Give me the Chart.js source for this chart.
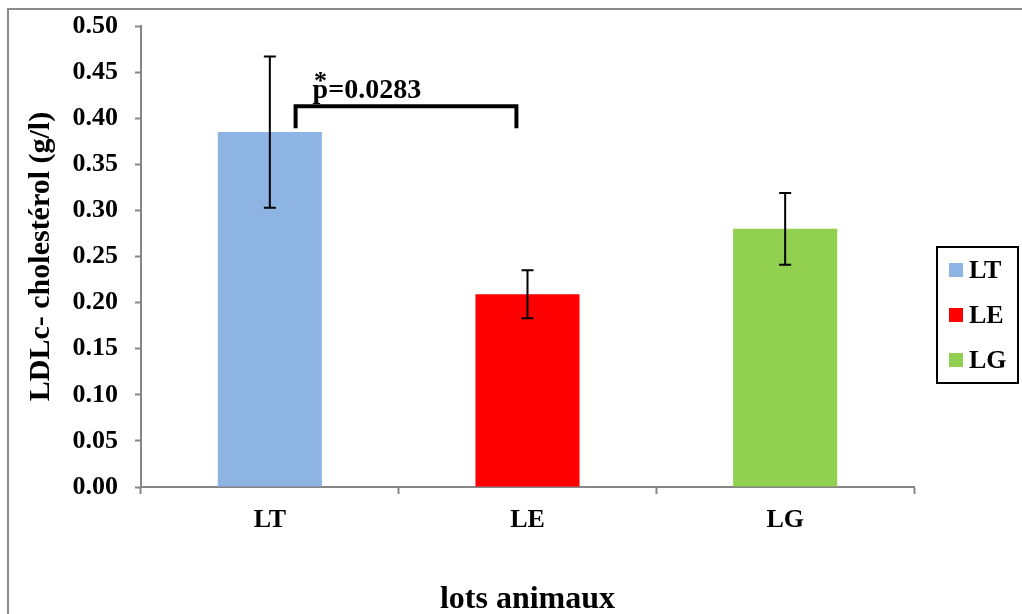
<!DOCTYPE html>
<html>
<head>
<meta charset="utf-8">
<script src="https://cdn.jsdelivr.net/npm/chart.js@4.4.1/dist/chart.umd.min.js"></script>
<style>
  html, body { margin: 0; padding: 0; background: #ffffff; }
  #wrap { width: 1022px; height: 614px; }
</style>
</head>
<body>
<div id="wrap"><canvas id="c" width="1022" height="614"></canvas></div>
<script>
// ---- data ----
const categories = ['LT', 'LE', 'LG'];
const meanValues = [0.385, 0.209, 0.280];
const errorValues = [0.082, 0.026, 0.039];
const barColors = ['#8EB4E3', '#FF0000', '#92D050'];
const yAxisTitle = 'LDLc- cholestérol (g/l)';
const xAxisTitle = 'lots animaux';
const comparisonPair = [0, 1];
const comparisonLabel = 'p=0.0283';
const comparisonMarker = '*';
const comparisonLevel = [0.389, 0.413]; // leg bottom, bracket top (g/l)

const FONT = "'Liberation Serif', 'Times New Roman', serif";
const AXIS_GREY = '#868686';

const framePlugin = {
  id: 'frame',
  beforeDraw(chart) {
    const ctx = chart.ctx;
    ctx.save();
    ctx.fillStyle = '#ffffff';
    ctx.fillRect(0, 0, chart.width, chart.height);
    ctx.strokeStyle = '#8a8a8a';
    ctx.lineWidth = 2;
    ctx.beginPath();
    ctx.moveTo(8, chart.height + 2);
    ctx.lineTo(8, 9);
    ctx.lineTo(chart.width + 2, 9);
    ctx.stroke();
    ctx.restore();
  }
};

const errorBarPlugin = {
  id: 'errorBars',
  afterDatasetsDraw(chart) {
    const ctx = chart.ctx;
    const y = chart.scales.y;
    const meta = chart.getDatasetMeta(0);
    ctx.save();
    ctx.strokeStyle = '#000000';
    ctx.lineWidth = 2;
    meta.data.forEach((bar, i) => {
      const x = bar.x;
      const yTop = y.getPixelForValue(meanValues[i] + errorValues[i]);
      const yBot = y.getPixelForValue(meanValues[i] - errorValues[i]);
      const cap = 6;
      ctx.beginPath();
      ctx.moveTo(x, yTop); ctx.lineTo(x, yBot);
      ctx.moveTo(x - cap, yTop); ctx.lineTo(x + cap, yTop);
      ctx.moveTo(x - cap, yBot); ctx.lineTo(x + cap, yBot);
      ctx.stroke();
    });
    ctx.restore();

    // significance bracket
    const xs = chart.scales.x;
    const catW = xs.getPixelForValue(1) - xs.getPixelForValue(0);
    const xl = xs.getPixelForValue(comparisonPair[0]) + 0.10 * catW;
    const xr = xs.getPixelForValue(comparisonPair[1]) - 0.043 * catW;
    const yb = y.getPixelForValue(comparisonLevel[0]);
    const yt = y.getPixelForValue(comparisonLevel[1]);
    ctx.save();
    ctx.strokeStyle = '#000000';
    ctx.lineWidth = 4;
    ctx.lineCap = 'butt';
    ctx.lineJoin = 'miter';
    ctx.beginPath();
    ctx.moveTo(xl, yb); ctx.lineTo(xl, yt); ctx.lineTo(xr, yt); ctx.lineTo(xr, yb);
    ctx.stroke();
    ctx.fillStyle = '#000000';
    ctx.font = 'bold 28px ' + FONT;
    ctx.textAlign = 'left';
    ctx.textBaseline = 'alphabetic';
    ctx.fillText(comparisonLabel, xl + 17, yt - 8);
    ctx.font = 'bold 26px ' + FONT;
    ctx.textAlign = 'center';
    ctx.fillText(comparisonMarker, xl + 25, yt - 17);
    ctx.restore();
  }
};

const legendPlugin = {
  id: 'boxLegend',
  afterDraw(chart) {
    const ctx = chart.ctx;
    const left = chart.chartArea.right + 23;
    const top = 247, w = 81, h = 136;
    ctx.save();
    ctx.strokeStyle = '#000000';
    ctx.lineWidth = 2;
    ctx.strokeRect(left, top, w, h);
    ctx.font = 'bold 26px ' + FONT;
    ctx.textAlign = 'left';
    ctx.textBaseline = 'middle';
    categories.forEach((c, i) => {
      const cy = top + 23 + i * 45;
      ctx.fillStyle = barColors[i];
      ctx.fillRect(left + 12, cy - 7, 14, 14);
      ctx.fillStyle = '#000000';
      ctx.fillText(c, left + 32, cy + 1);
    });
    ctx.restore();
  }
};

new Chart(document.getElementById('c'), {
  type: 'bar',
  data: {
    labels: categories,
    datasets: [{
      label: yAxisTitle,
      data: meanValues,
      backgroundColor: barColors,
      borderWidth: 0,
      categoryPercentage: 1.0,
      barPercentage: 0.404
    }]
  },
  options: {
    responsive: false,
    animation: false,
    devicePixelRatio: 1,
    layout: { padding: { top: 26, right: 108, bottom: 0, left: 0 } },
    plugins: {
      legend: { display: false },
      tooltip: { enabled: false },
      title: { display: false }
    },
    scales: {
      x: {
        offset: true,
        afterFit(scale) { scale.height = 127; },
        grid: {
          display: true,
          offset: true,
          drawOnChartArea: false,
          drawTicks: true,
          tickLength: 7,
          tickWidth: 2,
          tickColor: AXIS_GREY
        },
        border: { display: true, color: AXIS_GREY, width: 2 },
        ticks: {
          color: '#000000',
          padding: 11,
          font: { family: FONT, size: 26, weight: 'bold' }
        },
        title: {
          display: true,
          text: xAxisTitle,
          color: '#000000',
          padding: { top: 0, bottom: -5 },
          font: { family: FONT, size: 32, weight: 'bold' }
        }
      },
      y: {
        min: 0,
        max: 0.5,
        afterFit(scale) {
          scale.width = 141;
          scale.paddingTop = 0;
          scale.paddingBottom = 0;
        },
        grid: {
          display: true,
          drawOnChartArea: false,
          drawTicks: true,
          tickLength: 6,
          tickWidth: 2,
          tickColor: AXIS_GREY
        },
        border: { display: true, color: AXIS_GREY, width: 2 },
        ticks: {
          stepSize: 0.05,
          color: '#000000',
          padding: 17,
          font: { family: FONT, size: 26, weight: 'bold' },
          callback: (v) => Number(v).toFixed(2)
        },
        title: {
          display: true,
          text: yAxisTitle,
          color: '#000000',
          padding: { top: 23, bottom: 0 },
          font: { family: FONT, size: 30, weight: 'bold' }
        }
      }
    }
  },
  plugins: [framePlugin, errorBarPlugin, legendPlugin]
});
</script>
</body>
</html>
